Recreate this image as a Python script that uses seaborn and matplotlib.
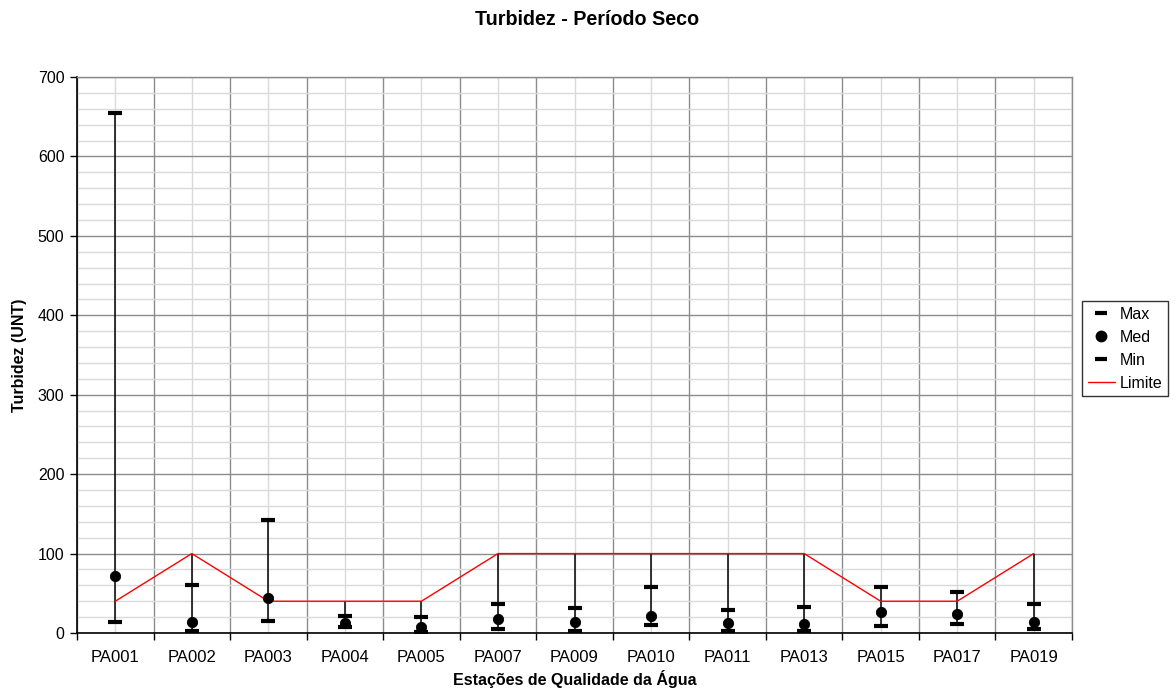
import numpy as np
import pandas as pd
import matplotlib
matplotlib.use("Agg")
import matplotlib.pyplot as plt
from matplotlib.lines import Line2D
from matplotlib.ticker import FixedLocator, MultipleLocator, NullFormatter
import seaborn as sns

stations = ["PA001", "PA002", "PA003", "PA004", "PA005", "PA007", "PA009",
            "PA010", "PA011", "PA013", "PA015", "PA017", "PA019"]
max_vals = [655, 61, 142, 22, 20, 37, 32, 58, 29, 33, 58, 51, 36]
med_vals = [72, 14, 44, 13, 7, 17, 14, 21, 12, 11, 26, 24, 14]
min_vals = [14, 2.5, 15, 7, 1, 5, 2, 10, 3, 2, 9, 11, 5]
limite = [40, 100, 40, 40, 40, 100, 100, 100, 100, 100, 40, 40, 100]

sns.set_theme(style="white")
plt.rcParams['font.family'] = ['Liberation Sans', 'DejaVu Sans']
plt.rcParams['text.color'] = 'black'
plt.rcParams['axes.labelcolor'] = 'black'
plt.rcParams['xtick.color'] = 'black'
plt.rcParams['ytick.color'] = 'black'

df = pd.DataFrame({"station": stations, "Max": max_vals, "Med": med_vals,
                   "Min": min_vals, "Limite": limite})
df["pos"] = np.arange(len(stations))

fig = plt.figure(figsize=(11.75, 6.95), dpi=100)
ax = fig.add_axes([77/1175, 1-633/695, (1072-77)/1175, (633-77)/695])

# grid
ax.set_xlim(-0.5, len(stations) - 0.5)
ax.set_ylim(0, 700)
ax.xaxis.set_major_locator(FixedLocator(np.arange(len(stations) + 1) - 0.5))
ax.xaxis.set_major_formatter(NullFormatter())
ax.set_xticks(np.arange(len(stations)), minor=True)
ax.set_xticklabels(stations, minor=True)
ax.yaxis.set_major_locator(MultipleLocator(100))
ax.yaxis.set_minor_locator(MultipleLocator(20))
ax.grid(True, which="major", axis="both", color="#8c8c8c", linewidth=1.0, zorder=0)
ax.grid(True, which="minor", axis="both", color="#dadada", linewidth=1.0, zorder=0)
ax.set_axisbelow(True)

ax.tick_params(axis="x", which="major", direction="out", length=5, width=1, color="black", bottom=True)
ax.tick_params(axis="x", which="minor", length=0, labelsize=12, pad=12, labelcolor="black")
ax.tick_params(axis="y", which="major", direction="out", length=5, width=1, color="black", left=True,
               labelsize=11.5, labelcolor="black", pad=4)
ax.tick_params(axis="y", which="minor", length=0)

for s in ["left", "bottom"]:
    ax.spines[s].set_color("black")
    ax.spines[s].set_linewidth(1.2)
for s in ["top", "right"]:
    ax.spines[s].set_color("#8c8c8c")
    ax.spines[s].set_linewidth(1.0)

# high-low lines (span over all series incl. limit)
lo = df[["Max", "Med", "Min", "Limite"]].min(axis=1)
hi = df[["Max", "Med", "Min", "Limite"]].max(axis=1)
ax.vlines(df["pos"], lo, hi, color="black", linewidth=1.1, zorder=3)

sns.lineplot(data=df, x="pos", y="Limite", ax=ax, color="#ff0000", linewidth=1.0,
             zorder=4, legend=False)
sns.scatterplot(data=df, x="pos", y="Max", ax=ax, marker="_", s=100, color="black",
                linewidth=3, zorder=5, legend=False)
sns.scatterplot(data=df, x="pos", y="Min", ax=ax, marker="_", s=100, color="black",
                linewidth=3, zorder=5, legend=False)
sns.scatterplot(data=df, x="pos", y="Med", ax=ax, marker="o", s=55, color="black",
                edgecolor="black", zorder=6, legend=False)

ax.set_xlabel("Estações de Qualidade da Água", fontsize=11.5, fontweight="bold", labelpad=4)
ax.set_ylabel("Turbidez (UNT)", fontsize=11.5, fontweight="bold", labelpad=8)
fig.suptitle("Turbidez - Período Seco", fontsize=14.2, fontweight="bold", y=0.985)

handles = [
    Line2D([0], [0], marker="_", linestyle="None", color="black", markersize=9, markeredgewidth=3),
    Line2D([0], [0], marker="o", linestyle="None", color="black", markersize=7.5),
    Line2D([0], [0], marker="_", linestyle="None", color="black", markersize=9, markeredgewidth=3),
    Line2D([0], [0], color="#ff0000", linewidth=1.0),
]
leg = fig.legend(handles, ["Max", "Med", "Min", "Limite"], loc="upper left",
                 bbox_to_anchor=(1082/1175, 1-301/695), frameon=True, fontsize=11.5,
                 fancybox=False, handlelength=1.7, handletextpad=0.3, borderpad=0.35,
                 labelspacing=0.5, borderaxespad=0)
leg.get_frame().set_edgecolor("black")
leg.get_frame().set_linewidth(1.0)

fig.savefig("out.png", dpi=100)
